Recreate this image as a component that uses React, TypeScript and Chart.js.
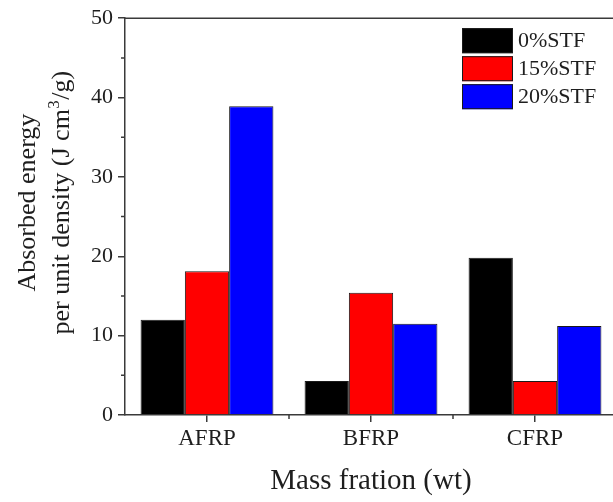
import React, { useEffect, useRef } from 'react';
import { Chart, registerables } from 'chart.js';

Chart.register(...registerables);

const categories = ['AFRP', 'BFRP', 'CFRP'];
const seriesLabels = ['0%STF', '15%STF', '20%STF'];
const stf0 = [12.0, 4.3, 19.8];
const stf15 = [18.1, 15.4, 4.3];
const stf20 = [38.9, 11.5, 11.2];
const seriesColors = ['#000000', '#ff0000', '#0000ff'];
const yMin = 0;
const yMax = 50;
const yStep = 10;
const yTitleLine1 = 'Absorbed energy';
const yTitleLine2Parts = ['per unit density (J cm', '3', '/g)'];
const xTitle = 'Mass fration (wt)';

const SERIF = '"Liberation Serif", "Times New Roman", serif';
const AXIS = '#3a3a3a';
const TEXT = '#1e1e1e';

const decorPlugin = {
  id: 'decor',
  afterDraw(chart: any) {
    const { ctx, chartArea: a, scales } = chart;
    const x = scales.x;
    const y = scales.y;
    ctx.save();
    ctx.strokeStyle = AXIS;
    ctx.lineWidth = 1.5;
    ctx.beginPath();
    // frame top and right
    ctx.moveTo(a.left, a.top);
    ctx.lineTo(a.right, a.top);
    ctx.lineTo(a.right, a.bottom);
    // minor y ticks
    for (let v = yMin + yStep / 2; v < yMax; v += yStep) {
      const py = y.getPixelForValue(v);
      ctx.moveTo(a.left - 4, py);
      ctx.lineTo(a.left, py);
    }
    // minor x ticks at category boundaries
    for (let i = 1; i < categories.length; i++) {
      const px = (x.getPixelForValue(i - 1) + x.getPixelForValue(i)) / 2;
      ctx.moveTo(px, a.bottom);
      ctx.lineTo(px, a.bottom + 4);
    }
    ctx.stroke();

    // legend inside plot, top right
    const boxW = 51;
    const boxH = 25;
    const rowH = 28;
    const left = a.right - 155;
    let top = a.top + 10;
    ctx.font = `22px ${SERIF}`;
    ctx.textBaseline = 'middle';
    ctx.textAlign = 'left';
    chart.data.datasets.forEach((ds: any) => {
      ctx.fillStyle = ds.backgroundColor;
      ctx.fillRect(left, top, boxW, boxH);
      ctx.lineWidth = 1;
      ctx.strokeStyle = '#1a1a1a';
      ctx.strokeRect(left + 0.5, top + 0.5, boxW - 1, boxH - 1);
      ctx.fillStyle = TEXT;
      ctx.fillText(ds.label, left + boxW + 5, top + boxH / 2 + 1);
      top += rowH;
    });

    // y-axis title (two lines, rotated, with superscript)
    const cy = (a.top + a.bottom) / 2 - 14;
    const fs = 26;
    const supFs = 17;
    ctx.fillStyle = TEXT;
    ctx.textBaseline = 'alphabetic';
    ctx.textAlign = 'left';
    // line 1
    ctx.save();
    ctx.translate(35, cy);
    ctx.rotate(-Math.PI / 2);
    ctx.font = `${fs}px ${SERIF}`;
    const w1 = ctx.measureText(yTitleLine1).width;
    ctx.fillText(yTitleLine1, -w1 / 2, 0);
    ctx.restore();
    // line 2
    ctx.save();
    ctx.translate(69, cy);
    ctx.rotate(-Math.PI / 2);
    ctx.font = `${fs}px ${SERIF}`;
    const wa = ctx.measureText(yTitleLine2Parts[0]).width;
    const wc = ctx.measureText(yTitleLine2Parts[2]).width;
    ctx.font = `${supFs}px ${SERIF}`;
    const wb = ctx.measureText(yTitleLine2Parts[1]).width;
    let sx = -(wa + wb + wc + 1) / 2;
    ctx.font = `${fs}px ${SERIF}`;
    ctx.fillText(yTitleLine2Parts[0], sx, 0);
    sx += wa + 0.5;
    ctx.font = `${supFs}px ${SERIF}`;
    ctx.fillText(yTitleLine2Parts[1], sx, -10);
    sx += wb + 0.5;
    ctx.font = `${fs}px ${SERIF}`;
    ctx.fillText(yTitleLine2Parts[2], sx, 0);
    ctx.restore();

    ctx.restore();
  },
};

export default function App() {
  const ref = useRef<HTMLCanvasElement | null>(null);

  useEffect(() => {
    if (!ref.current) return;
    const seriesValues = [stf0, stf15, stf20];
    const chart = new Chart(ref.current, {
      type: 'bar',
      data: {
        labels: categories,
        datasets: seriesValues.map((vals, i) => ({
          label: seriesLabels[i],
          data: vals,
          backgroundColor: seriesColors[i],
          borderColor: '#1a1a1a',
          borderWidth: 1,
          categoryPercentage: 0.81,
          barPercentage: 1.0,
        })),
      },
      options: {
        responsive: false,
        animation: false,
        layout: { padding: { top: 17, left: 0, right: 0, bottom: 0 } },
        plugins: {
          legend: { display: false },
          tooltip: { enabled: false },
        },
        scales: {
          x: {
            type: 'category',
            offset: true,
            grid: {
              offset: false,
              drawOnChartArea: false,
              drawTicks: true,
              tickLength: 7,
              color: AXIS,
              lineWidth: 1.5,
            },
            border: { display: true, color: AXIS, width: 1.5 },
            ticks: {
              font: { family: SERIF, size: 23 },
              color: TEXT,
              padding: 3,
              maxRotation: 0,
            },
            title: {
              display: true,
              text: xTitle,
              font: { family: SERIF, size: 29 },
              color: TEXT,
              padding: { top: 0, bottom: 3 },
            },
            afterFit(s: any) {
              s.height = 87;
            },
          },
          y: {
            min: yMin,
            max: yMax,
            ticks: {
              stepSize: yStep,
              font: { family: SERIF, size: 22 },
              color: TEXT,
              padding: 5,
            },
            grid: {
              drawOnChartArea: false,
              drawTicks: true,
              tickLength: 7,
              color: AXIS,
              lineWidth: 1.5,
            },
            border: { display: true, color: AXIS, width: 1.5 },
            title: { display: false },
            afterFit(s: any) {
              s.width = 125;
            },
          },
        },
      },
      plugins: [decorPlugin],
    });
    return () => chart.destroy();
  }, []);

  return (
    <div
      style={{
        position: 'fixed',
        left: 0,
        top: 0,
        width: 613,
        height: 502,
        overflow: 'hidden',
        background: '#fff',
      }}
    >
      <canvas ref={ref} width={617} height={502} style={{ display: 'block' }} />
    </div>
  );
}
